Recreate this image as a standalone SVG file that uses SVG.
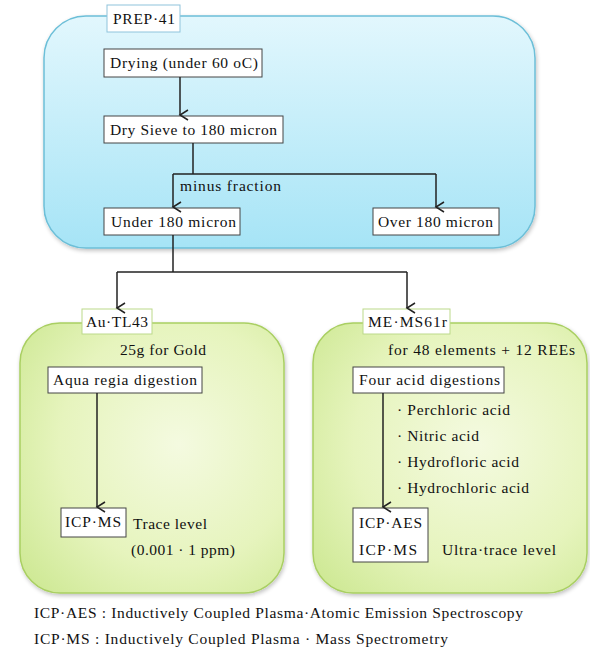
<svg xmlns="http://www.w3.org/2000/svg" width="590" height="649" viewBox="0 0 590 649">
<defs>
<linearGradient id="gb" x1="0" y1="0" x2="0" y2="1">
<stop offset="0" stop-color="#e2f7fd"/>
<stop offset="1" stop-color="#a6e4f6"/>
</linearGradient>
<radialGradient id="gg" cx="0.6" cy="0.45" r="0.75">
<stop offset="0" stop-color="#f4fae0"/>
<stop offset="0.6" stop-color="#e6f4bd"/>
<stop offset="1" stop-color="#cfe996"/>
</radialGradient>
<filter id="sh" x="-10%" y="-10%" width="120%" height="120%">
<feGaussianBlur in="SourceAlpha" stdDeviation="2"/>
<feOffset dx="1" dy="2" result="b"/>
<feComponentTransfer><feFuncA type="linear" slope="0.25"/></feComponentTransfer>
<feMerge><feMergeNode/><feMergeNode in="SourceGraphic"/></feMerge>
</filter>
<marker id="ar" markerWidth="12" markerHeight="12" refX="6" refY="10" orient="auto-start-reverse" markerUnits="userSpaceOnUse" viewBox="0 0 12 12">
<path d="M1,2 L6,10 L11,2" fill="none" stroke="#222" stroke-width="1.5"/>
</marker>
</defs>
<style>
text{font-family:"Liberation Serif","Times New Roman","DejaVu Serif",serif;font-size:15.5px;fill:#111}
.box{fill:#fff;stroke:#444;stroke-width:1}
.lb{fill:#fff;stroke:#8fc4dc;stroke-width:1}
.lg{fill:#fff;stroke:#bcd98a;stroke-width:1}
.cn{fill:none;stroke:#222;stroke-width:1.5}
</style>
<rect width="590" height="649" fill="#fff"/>

<g id="prep">
<rect x="44" y="16" width="491" height="232" rx="42" fill="url(#gb)" stroke="#6cbfd8" stroke-width="1.5" filter="url(#sh)"/>
<rect class="lb" x="107" y="5" width="73" height="27"/>
<text x="113" y="24" textLength="62" lengthAdjust="spacing">PREP·41</text>
</g>
<g id="autl">
<rect x="20" y="323" width="264" height="270" rx="40" fill="url(#gg)" stroke="#a9cf62" stroke-width="1.5" filter="url(#sh)"/>
<rect class="lg" x="82" y="309" width="70" height="25"/>
<text x="86" y="327" textLength="62" lengthAdjust="spacing">Au·TL43</text>
<text x="120" y="355" textLength="86" lengthAdjust="spacing">25g for Gold</text>
</g>
<g id="memS">
<rect x="313" y="323" width="274" height="270" rx="40" fill="url(#gg)" stroke="#a9cf62" stroke-width="1.5" filter="url(#sh)"/>
<rect class="lg" x="363" y="309" width="87" height="25"/>
<text x="368" y="327" textLength="79" lengthAdjust="spacing">ME·MS61r</text>
<text x="388" y="355" textLength="187" lengthAdjust="spacing">for 48 elements + 12 REEs</text>
</g>

<g id="drying"><rect class="box" x="104" y="49" width="158" height="28"/><text x="110" y="68" textLength="148" lengthAdjust="spacing">Drying (under 60 oC)</text></g>
<g id="sieve"><rect class="box" x="104" y="116" width="179" height="27"/><text x="110" y="135" textLength="167" lengthAdjust="spacing">Dry Sieve to 180 micron</text></g>
<g id="under"><rect class="box" x="104" y="208" width="136" height="27"/><text x="111" y="227" textLength="125" lengthAdjust="spacing">Under 180 micron</text></g>
<g id="over"><rect class="box" x="373" y="208" width="126" height="27"/><text x="378" y="227" textLength="115" lengthAdjust="spacing">Over 180 micron</text></g>
<g id="aqua"><rect class="box" x="48" y="367" width="154" height="26"/><text x="53" y="385" textLength="144" lengthAdjust="spacing">Aqua regia digestion</text></g>
<g id="icpms1"><rect class="box" x="61" y="508" width="65" height="29"/><text x="65" y="527" textLength="56" lengthAdjust="spacing">ICP·MS</text>
<text x="133" y="529" textLength="74" lengthAdjust="spacing">Trace level</text><text x="131" y="555" textLength="104" lengthAdjust="spacing">(0.001 · 1 ppm)</text></g>
<g id="four"><rect class="box" x="353" y="367" width="151" height="26"/><text x="359" y="385" textLength="141" lengthAdjust="spacing">Four acid digestions</text>
<text x="397" y="415" textLength="113" lengthAdjust="spacing">· Perchloric acid</text>
<text x="397" y="441" textLength="82" lengthAdjust="spacing">· Nitric acid</text>
<text x="397" y="467" textLength="122" lengthAdjust="spacing">· Hydrofloric acid</text>
<text x="397" y="493" textLength="132" lengthAdjust="spacing">· Hydrochloric acid</text></g>
<g id="icp2"><rect class="box" x="353" y="508" width="75" height="54"/><text x="359" y="528" textLength="63" lengthAdjust="spacing">ICP·AES</text><text x="359" y="555" textLength="58" lengthAdjust="spacing">ICP·MS</text>
<text x="442" y="555" textLength="114" lengthAdjust="spacing">Ultra·trace level</text></g>

<g id="connectors">
<path class="cn" d="M180,77 V115" marker-end="url(#ar)"/>
<path class="cn" d="M193,143 V174"/>
<path class="cn" d="M173,174 H436"/>
<path class="cn" d="M173,174 V207" marker-end="url(#ar)"/>
<path class="cn" d="M436,174 V207" marker-end="url(#ar)"/>
<path class="cn" d="M173,235 V272"/>
<path class="cn" d="M117,272 H407"/>
<path class="cn" d="M117,272 V308" marker-end="url(#ar)"/>
<path class="cn" d="M407,272 V308" marker-end="url(#ar)"/>
<path class="cn" d="M97,393 V507" marker-end="url(#ar)"/>
<path class="cn" d="M383,393 V507" marker-end="url(#ar)"/>
<text x="180" y="191" textLength="101" lengthAdjust="spacing">minus fraction</text>
</g>

<g id="legend">
<text x="34" y="618" textLength="489" lengthAdjust="spacing">ICP·AES : Inductively Coupled Plasma·Atomic Emission Spectroscopy</text>
<text x="34" y="644" textLength="414" lengthAdjust="spacing">ICP·MS : Inductively Coupled Plasma · Mass Spectrometry</text>
</g>
</svg>
